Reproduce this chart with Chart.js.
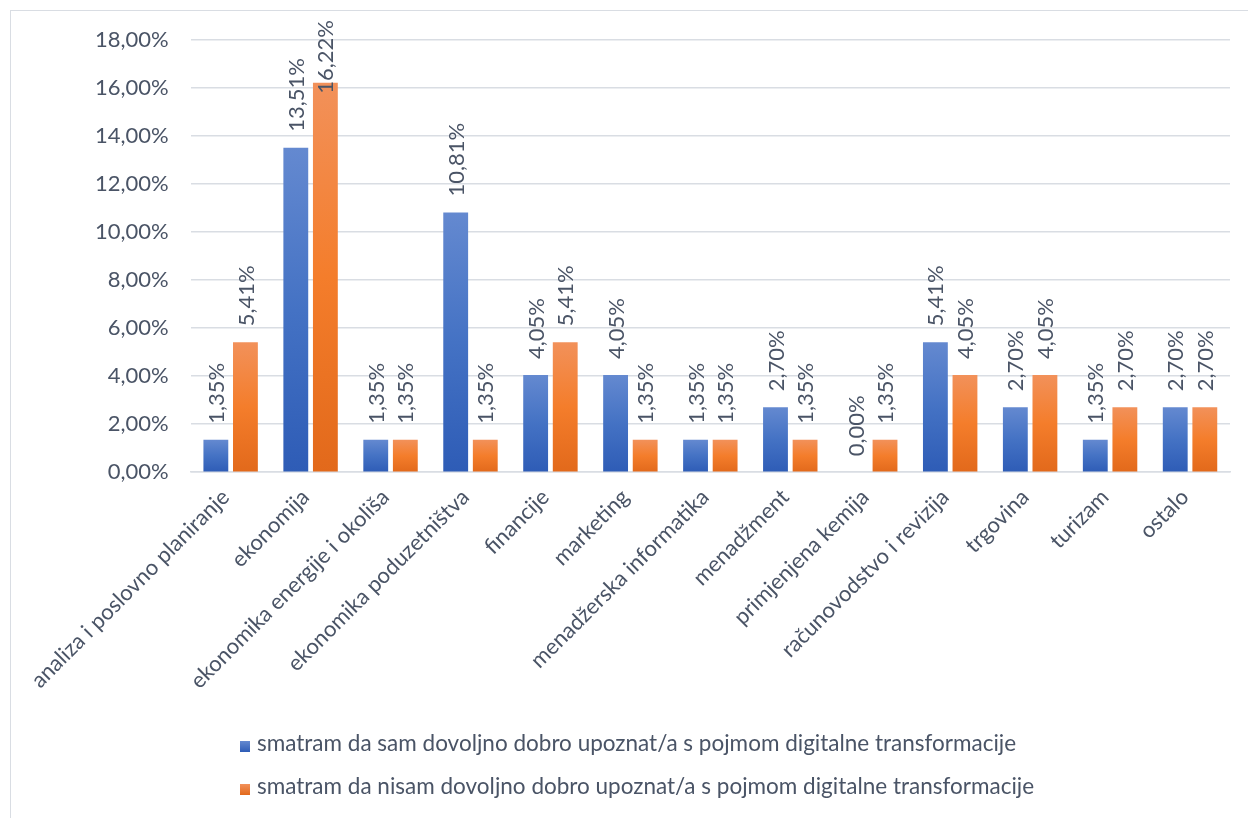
<!DOCTYPE html>
<html>
<head>
<meta charset="utf-8">
<script src="https://cdn.jsdelivr.net/npm/chart.js@4.4.1/dist/chart.umd.min.js"></script>
<style>
    body { margin: 0; background: #fff; font-family: Lato, sans-serif; }
    #wrap { position: relative; width: 1248px; height: 818px; overflow: hidden; }
    #frame { position: absolute; left: 10px; top: 10px; width: 1250px; height: 820px; border: 1.5px solid #d9dde3; box-sizing: border-box; }
    #chart { position: absolute; left: 0; top: 0; }
    #legend { position: absolute; left: 240px; top: 728px; font-size: 22.5px; color: #4a5466; }
    .item { height: 43px; line-height: 30px; white-space: nowrap; }
    .box { display: inline-block; width: 10px; height: 11px; margin-right: 7px; vertical-align: -1px; }
</style>
</head>
<body>
<div id="wrap">
    <div id="frame"></div>
    <canvas id="chart" width="1248" height="818"></canvas>
    <div id="legend"></div>
</div>
<script>
const kategorije = [
    'analiza i poslovno planiranje',
    'ekonomija',
    'ekonomika energije i okoliša',
    'ekonomika poduzetništva',
    'financije',
    'marketing',
    'menadžerska informatika',
    'menadžment',
    'primjenjena kemija',
    'računovodstvo i revizija',
    'trgovina',
    'turizam',
    'ostalo'
];

const upoznati = [1.35, 13.51, 1.35, 10.81, 4.05, 4.05, 1.35, 2.70, 0.00, 5.41, 2.70, 1.35, 2.70];
const neupoznati = [5.41, 16.22, 1.35, 1.35, 5.41, 1.35, 1.35, 1.35, 1.35, 4.05, 4.05, 2.70, 2.70];

const nazivi = [
    'smatram da sam dovoljno dobro upoznat/a s pojmom digitalne transformacije',
    'smatram da nisam dovoljno dobro upoznat/a s pojmom digitalne transformacije'
];

const yTicks = [0, 2, 4, 6, 8, 10, 12, 14, 16, 18];

const plava = ['#6489d0', '#4472c4', '#2e5cb6'];
const narancasta = ['#f2915a', '#f47d2b', '#e2691b'];
const tekstBoja = '#4a5466';

function formatPostotak(v) {
    return v.toFixed(2).replace('.', ',') + '%';
}

// gradient po stupcu, svjetlije gore
function gradijent(ctx, boje) {
    const chart = ctx.chart;
    if (ctx.type !== 'data' || !chart.chartArea || !chart.scales.y) return boje[1];
    const y = chart.scales.y;
    const vrh = y.getPixelForValue(ctx.raw);
    const dno = y.getPixelForValue(0);
    if (dno - vrh < 1) return boje[1];
    const g = chart.ctx.createLinearGradient(0, vrh, 0, dno);
    g.addColorStop(0, boje[0]);
    g.addColorStop(0.5, boje[1]);
    g.addColorStop(1, boje[2]);
    return g;
}

const oznakePlugin = {
    id: 'oznake',
    afterDatasetsDraw(chart) {
        const ctx = chart.ctx;
        ctx.save();
        ctx.font = '22px Lato';
        ctx.fillStyle = tekstBoja;
        ctx.textAlign = 'left';
        ctx.textBaseline = 'middle';
        chart.data.datasets.forEach((ds, i) => {
            chart.getDatasetMeta(i).data.forEach((bar, j) => {
                const txt = formatPostotak(ds.data[j]);
                const w = ctx.measureText(txt).width;
                // kao u Excelu: oznaka ne smije izaći iznad okvira
                const start = Math.max(bar.y - 16, 20 + w);
                ctx.save();
                ctx.translate(bar.x + 1, start);
                ctx.rotate(-Math.PI / 2);
                ctx.fillText(txt, 0, 0);
                ctx.restore();
            });
        });
        ctx.restore();
    }
};

const chart = new Chart(document.getElementById('chart'), {
    type: 'bar',
    data: {
        labels: kategorije,
        datasets: [
            { label: nazivi[0], data: upoznati, backgroundColor: c => gradijent(c, plava) },
            { label: nazivi[1], data: neupoznati, backgroundColor: c => gradijent(c, narancasta) }
        ]
    },
    options: {
        responsive: false,
        animation: false,
        categoryPercentage: 0.74,
        barPercentage: 0.84,
        layout: { padding: { left: 73, right: 18, top: 40, bottom: 120 } },
        plugins: {
            legend: { display: false },
            tooltip: { enabled: false }
        },
        scales: {
            x: {
                grid: { display: false },
                border: { color: '#d9dde3', width: 1.5 },
                ticks: {
                    color: tekstBoja,
                    font: { family: 'Lato', size: 22 },
                    minRotation: 45,
                    maxRotation: 45,
                    autoSkip: false,
                    padding: 4,
                    labelOffset: -5
                }
            },
            y: {
                min: 0,
                max: 18,
                afterBuildTicks: axis => { axis.ticks = yTicks.map(v => ({ value: v })); },
                grid: { color: '#d9dde3', lineWidth: 1.5, drawTicks: false },
                border: { display: false },
                ticks: {
                    color: tekstBoja,
                    font: { family: 'Lato', size: 22 },
                    padding: 22,
                    callback: v => formatPostotak(v)
                }
            }
        }
    },
    plugins: [oznakePlugin]
});

const legenda = document.getElementById('legend');
[plava, narancasta].forEach((boje, i) => {
    const red = document.createElement('div');
    red.className = 'item';
    red.innerHTML = `<span class="box" style="background: linear-gradient(${boje[0]}, ${boje[2]})"></span>${nazivi[i]}`;
    legenda.appendChild(red);
});
</script>
</body>
</html>
